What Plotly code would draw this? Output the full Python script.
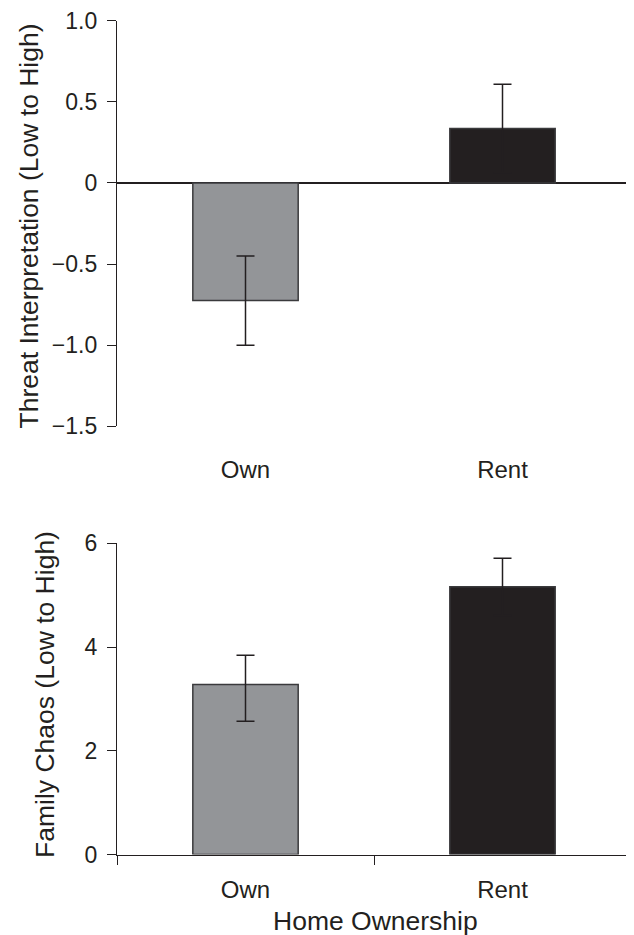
import plotly.graph_objects as go

# The page body has an 8px margin, so the figure is sized to fit the window
WIN_W, WIN_H = 634, 935
OFF = 8
W, H = WIN_W - OFF, WIN_H - OFF

categories = ["Own", "Rent"]

threat_values = [-0.725, 0.336]
threat_err = [0.275, 0.273]

chaos_values = [3.28, 5.16]
chaos_err_plus = [0.56, 0.55]
chaos_err_minus = [0.71, 0.55]

threat_ticks = [-1.5, -1.0, -0.5, 0, 0.5, 1.0]
threat_ticktext = ["\u22121.5", "\u22121.0", "\u22120.5", "0", "0.5", "1.0"]
chaos_ticks = [0, 2, 4, 6]
chaos_ticktext = ["0", "2", "4", "6"]

bar_colors = ["#939598", "#231f20"]
ink = "#231f20"
FONT = "Liberation Sans, Arial, sans-serif"


def px_x(v):
    return (v - OFF) / W


def px_y(v):
    return 1 - (v - OFF) / H


fig = go.Figure()

fig.add_trace(go.Bar(
    x=categories, y=threat_values, width=0.41,
    marker=dict(color=bar_colors, line=dict(color="#3a3a3c", width=1.5)),
    error_y=dict(type="data", array=threat_err, color=ink, thickness=1.5, width=9),
    xaxis="x", yaxis="y", showlegend=False,
))
fig.add_trace(go.Bar(
    x=categories, y=chaos_values, width=0.41,
    marker=dict(color=bar_colors, line=dict(color="#3a3a3c", width=1.5)),
    error_y=dict(type="data", symmetric=False, array=chaos_err_plus,
                 arrayminus=chaos_err_minus, color=ink, thickness=1.5, width=9),
    xaxis="x2", yaxis="y2", showlegend=False,
))

ytickfont = dict(family=FONT, size=23, color=ink)
xtickfont = dict(family=FONT, size=24, color=ink)
titlefont = dict(family=FONT, size=26.5, color=ink)

fig.update_layout(
    width=W, height=H,
    margin=dict(l=0, r=0, t=0, b=0, autoexpand=False),
    paper_bgcolor="white", plot_bgcolor="white",
    font=dict(family=FONT, color=ink),
    xaxis=dict(
        domain=[px_x(117), px_x(631)], anchor="y", automargin=False,
        showline=False, ticks="", showgrid=False, zeroline=False,
        tickfont=xtickfont, ticklabelstandoff=27, ticklabeloverflow="allow",
    ),
    yaxis=dict(
        domain=[px_y(426.3), px_y(20.7)], anchor="x", automargin=False,
        range=[-1.5, 1.0], showgrid=False,
        showline=True, linecolor=ink, linewidth=1.3,
        ticks="outside", ticklen=9, tickwidth=1.3, tickcolor=ink,
        tickvals=threat_ticks, ticktext=threat_ticktext, tickfont=ytickfont,
        zeroline=True, zerolinecolor=ink, zerolinewidth=1.5,
        ticklabelstandoff=5, ticklabeloverflow="allow",
    ),
    xaxis2=dict(
        domain=[px_x(117), px_x(631)], anchor="y2", automargin=False,
        showline=True, linecolor=ink, linewidth=1.3,
        ticks="outside", ticklen=9, tickwidth=1.3, tickcolor=ink,
        tickson="boundaries", showgrid=False, zeroline=False,
        tickfont=xtickfont, ticklabelstandoff=14, ticklabeloverflow="allow",
    ),
    yaxis2=dict(
        domain=[px_y(854.5), px_y(543.3)], anchor="x2", automargin=False,
        range=[0, 6], showgrid=False,
        showline=True, linecolor=ink, linewidth=1.3,
        ticks="outside", ticklen=9, tickwidth=1.3, tickcolor=ink,
        tickvals=chaos_ticks, ticktext=chaos_ticktext, tickfont=ytickfont,
        zeroline=False, ticklabelstandoff=5, ticklabeloverflow="allow",
    ),
    annotations=[
        dict(text="Threat Interpretation (Low to High)", xref="paper", yref="paper",
             x=px_x(28), y=px_y(226.5), xanchor="center", yanchor="middle",
             textangle=-90, showarrow=False, font=titlefont),
        dict(text="Family Chaos (Low to High)", xref="paper", yref="paper",
             x=px_x(45), y=px_y(695), xanchor="center", yanchor="middle",
             textangle=-90, showarrow=False, font=titlefont),
        dict(text="Home Ownership", xref="paper", yref="paper",
             x=px_x(375), y=px_y(921), xanchor="center", yanchor="middle",
             showarrow=False, font=titlefont),
    ],
)

fig.write_html("out.html")
